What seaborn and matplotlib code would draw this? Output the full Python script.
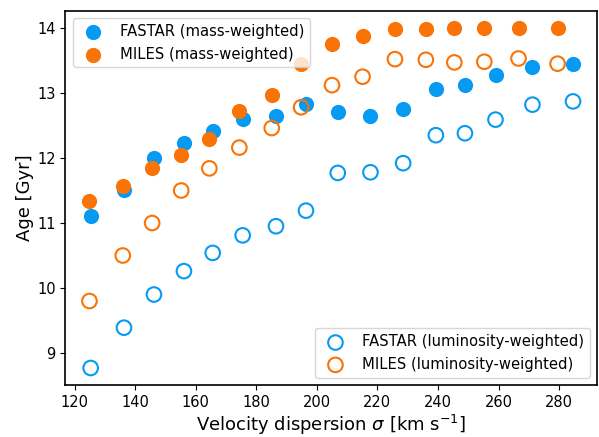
import numpy as np
import pandas as pd
import seaborn as sns
import matplotlib.pyplot as plt

# velocity dispersion bins (km/s)
sigma_fastar = [125.3, 136.3, 146.2, 156.1, 165.6, 175.5, 186.5, 196.4,
                206.9, 217.7, 228.5, 239.3, 248.9, 259.0, 271.2, 284.6]
sigma_miles = [124.9, 135.9, 145.6, 155.2, 164.5, 174.4, 185.1, 194.8,
               205.0, 215.1, 225.8, 236.0, 245.4, 255.3, 266.6, 279.5]

# ages (Gyr)
fastar_mass = [11.11, 11.51, 12.00, 12.23, 12.42, 12.60, 12.64, 12.83,
               12.70, 12.64, 12.76, 13.06, 13.12, 13.28, 13.40, 13.44]
miles_mass = [11.34, 11.57, 11.84, 12.05, 12.29, 12.72, 12.97, 13.44,
              13.75, 13.87, 13.99, 13.99, 14.00, 14.00, 14.00, 14.00]
fastar_lum = [8.77, 9.39, 9.90, 10.26, 10.54, 10.81, 10.95, 11.19,
              11.77, 11.78, 11.92, 12.35, 12.38, 12.59, 12.82, 12.87]
miles_lum = [9.80, 10.50, 11.00, 11.50, 11.84, 12.16, 12.46, 12.78,
             13.12, 13.25, 13.52, 13.51, 13.47, 13.48, 13.53, 13.45]

blue = '#069af3'
orange = '#f97306'

sns.set_style("ticks")
plt.rcParams['font.family'] = ['DejaVu Sans']
plt.rcParams['text.color'] = 'black'

fig, ax = plt.subplots(figsize=(5.99, 4.37), dpi=100)
fig.subplots_adjust(left=0.109, right=0.997, top=0.975, bottom=0.119)

df_f = pd.DataFrame({'sigma': sigma_fastar, 'mass': fastar_mass, 'lum': fastar_lum})
df_m = pd.DataFrame({'sigma': sigma_miles, 'mass': miles_mass, 'lum': miles_lum})

# mass-weighted: filled
sns.scatterplot(data=df_f, x='sigma', y='mass', ax=ax, color=blue, s=120,
                linewidth=0, label='FASTAR (mass-weighted)')
sns.scatterplot(data=df_m, x='sigma', y='mass', ax=ax, color=orange, s=120,
                linewidth=0, label='MILES (mass-weighted)')
# luminosity-weighted: open
sns.scatterplot(data=df_f, x='sigma', y='lum', ax=ax, facecolor='none',
                edgecolor=blue, s=110, linewidth=1.5,
                label='FASTAR (luminosity-weighted)')
sns.scatterplot(data=df_m, x='sigma', y='lum', ax=ax, facecolor='none',
                edgecolor=orange, s=110, linewidth=1.5,
                label='MILES (luminosity-weighted)')

handles, labels = ax.get_legend_handles_labels()
leg1 = ax.legend(handles[:2], labels[:2], loc='upper left', fontsize=10.6,
                 frameon=True)
ax.add_artist(leg1)
ax.legend(handles[2:], labels[2:], loc='lower right', fontsize=10.6, frameon=True)

for sp in ax.spines.values():
    sp.set_color('black')
    sp.set_linewidth(1.2)
ax.tick_params(labelsize=10.5, color='black', labelcolor='black')
ax.set_xticks([120, 140, 160, 180, 200, 220, 240, 260, 280])
ax.set_yticks([9, 10, 11, 12, 13, 14])
ax.set_xlabel(r'Velocity dispersion $\sigma$ [km s$^{-1}$]', fontsize=13,
              color='black', labelpad=2)
ax.set_ylabel('Age [Gyr]', fontsize=13, color='black', labelpad=2)

fig.savefig('out.png', dpi=100)
